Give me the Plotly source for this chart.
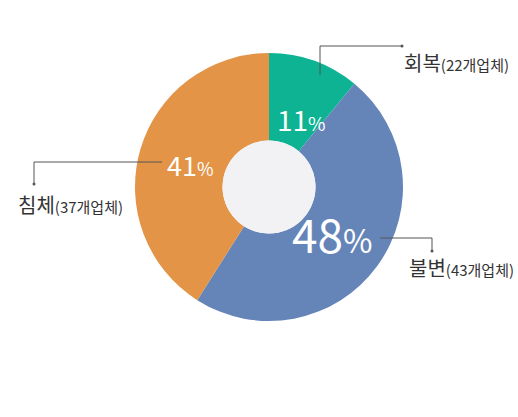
import math
import plotly.graph_objects as go

labels = ['회복', '불변', '침체']
percents = [11, 48, 41]
companies = [22, 43, 37]
colors = ['#0db393', '#6585b8', '#e39446']
num_sizes = [28, 46, 27]
pct_sizes = [19, 32, 18]
text_radius = [96, 79, 82]

W, H = 518, 417
cx, cy, r, r_in = 269, 187, 134, 46.5

fig = go.Figure()
fig.add_trace(go.Pie(
    labels=labels, values=percents, textinfo='none',
    marker=dict(colors=colors, line=dict(width=0)),
    sort=False, direction='clockwise', rotation=0, hole=r_in / r,
    domain=dict(x=[(cx - r) / W, (cx + r) / W], y=[1 - (cy + r) / H, 1 - (cy - r) / H]),
    showlegend=False, hoverinfo='skip',
))

def px(x, y):
    return x / W, 1 - y / H

# centre disc
x0, y0 = px(cx - r_in, cy + r_in)
x1, y1 = px(cx + r_in, cy - r_in)
fig.add_shape(type='circle', xref='paper', yref='paper', x0=x0, y0=y0, x1=x1, y1=y1,
              fillcolor='#f2f2f5', line=dict(width=0), layer='above')

# percentage labels placed at each slice's mid angle
total = sum(percents)
cum = 0
for p, ns, ps, tr in zip(percents, num_sizes, pct_sizes, text_radius):
    mid = math.radians((cum + p / 2) / total * 360)
    cum += p
    x, y = px(cx + tr * math.sin(mid), cy - tr * math.cos(mid))
    fig.add_annotation(
        x=x, y=y, xref='paper', yref='paper', showarrow=False,
        text=f"{p}<span style='font-size:{ps}px'>%</span>",
        font=dict(size=ns, color='white', family='Noto Sans CJK KR'),
    )

# leader lines
leaders = [
    [(320, 75), (320, 46), (402, 46)],
    [(380, 238), (432, 238), (432, 251)],
    [(162, 162), (34, 162), (34, 184)],
]
for pts in leaders:
    for (ax, ay), (bx, by) in zip(pts[:-1], pts[1:]):
        a = px(ax, ay); b = px(bx, by)
        fig.add_shape(type='line', xref='paper', yref='paper', x0=a[0], y0=a[1], x1=b[0], y1=b[1],
                      line=dict(color='#555555', width=1), layer='above')
    ex, ey = px(*pts[-1])
    fig.add_shape(type='circle', xref='paper', yref='paper',
                  x0=ex - 1.5 / W, x1=ex + 1.5 / W, y0=ey - 1.5 / H, y1=ey + 1.5 / H,
                  fillcolor='#555555', line=dict(width=0), layer='above')

label_pos = [(402, 63), (407, 267), (16, 204)]
for name, n, (lx, ly) in zip(labels, companies, label_pos):
    x, y = px(lx, ly)
    fig.add_annotation(
        x=x, y=y, xref='paper', yref='paper', xanchor='left', yanchor='middle', showarrow=False,
        text=f"{name}<span style='font-size:15px'>({n}개업체)</span>",
        font=dict(size=20, color='#333333', family='Noto Sans CJK KR'),
    )

fig.update_layout(width=W, height=H, margin=dict(l=0, r=0, t=0, b=0),
                  paper_bgcolor='white', plot_bgcolor='white')
fig.write_html("out.html", config={'displayModeBar': False},
               post_script="document.body.style.margin='0';")
